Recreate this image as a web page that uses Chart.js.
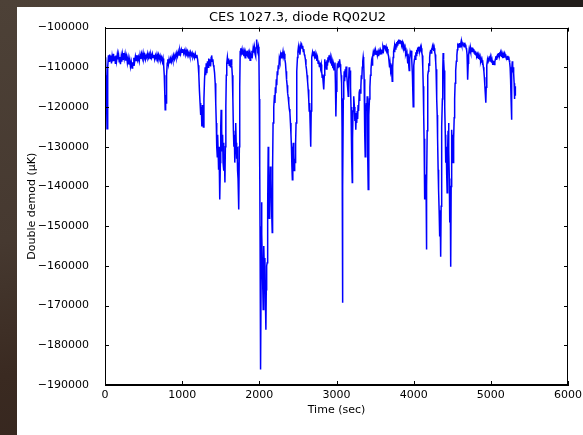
<!DOCTYPE html>
<html>
<head>
<meta charset="utf-8">
<script src="https://cdn.jsdelivr.net/npm/chart.js@4.4.1/dist/chart.umd.min.js"></script>
<style>
  html, body { margin: 0; padding: 0; }
  body {
    width: 583px; height: 435px; overflow: hidden; position: relative;
    background: linear-gradient(170deg, #4d4137 0%, #463930 45%, #3a2a21 70%, #33241d 100%);
  }
  #corner { position: absolute; left: 430px; top: 0; width: 153px; height: 7px; background: #221e1b; }
  #panel { position: absolute; left: 17px; top: 7px; width: 569px; height: 428px; background: #fff; }
</style>
</head>
<body>
<div id="corner"></div>
<div id="panel"><canvas id="chart" width="569" height="428"></canvas></div>
<script>
// time in seconds (10 per line, same layout as values below)
const times = [
  0, 8, 14, 20, 26, 32, 38, 45, 52, 60,
  68, 76, 84, 92, 100, 110, 118, 126, 134, 142,
  150, 160, 168, 176, 184, 192, 200, 210, 218, 226,
  234, 242, 250, 260, 270, 280, 290, 300, 310, 320,
  330, 340, 350, 358, 366, 374, 384, 394, 404, 414,
  424, 434, 444, 454, 464, 474, 484, 494, 504, 514,
  524, 534, 544, 554, 564, 574, 584, 594, 604, 614,
  624, 634, 644, 654, 664, 674, 684, 694, 704, 714,
  724, 734, 744, 752, 760, 768, 774, 780, 786, 792,
  798, 806, 814, 822,
  830, 840, 850, 860, 870, 880, 890, 900, 910, 920,
  930, 940, 950, 960, 970, 980, 990, 1000, 1010, 1020,
  1030, 1040, 1050, 1060, 1070, 1080, 1090, 1100, 1110, 1120,
  1130, 1140, 1150, 1160, 1170, 1180, 1190, 1200, 1208, 1216,
  1224, 1232, 1240, 1248, 1255, 1262, 1268, 1275, 1282, 1290,
  1298, 1305, 1312, 1320, 1328, 1336, 1344, 1352, 1360, 1368,
  1376, 1382, 1390, 1398, 1405, 1412, 1420, 1428, 1435, 1442,
  1448, 1455, 1460, 1466, 1472, 1478, 1484, 1490, 1495, 1500,
  1505, 1512, 1518, 1524, 1530, 1536, 1542, 1548, 1554, 1560,
  1566, 1572, 1578, 1586, 1594, 1602, 1610, 1618, 1626, 1634,
  1642, 1650, 1657, 1664, 1670, 1676, 1682, 1688, 1694, 1700,
  1706, 1712, 1718, 1724, 1730, 1736, 1741, 1746, 1752, 1760,
  1768, 1776, 1784, 1792, 1800, 1808, 1816, 1824, 1832, 1840,
  1848, 1856, 1864, 1872, 1880, 1888, 1896, 1904, 1912, 1920,
  1928, 1936, 1944, 1952, 1958, 1965, 1972, 1980, 1988, 1995,
  2000, 2005, 2009, 2012, 2016, 2020, 2024, 2028, 2034, 2040,
  2045, 2050, 2055, 2060, 2066, 2072, 2078, 2085, 2090, 2095,
  2102, 2108, 2115, 2121, 2128, 2133, 2137, 2143, 2150, 2156,
  2162, 2167, 2172, 2178, 2184, 2190, 2196, 2202, 2208, 2214,
  2220, 2226, 2232, 2238, 2245, 2252, 2259, 2267, 2275, 2283,
  2291, 2299, 2307, 2315, 2323, 2331, 2339, 2346, 2353, 2360,
  2367, 2374, 2381, 2388, 2396, 2403, 2410, 2416, 2422, 2428,
  2434, 2440, 2446, 2452, 2458, 2464, 2470, 2476, 2482, 2488,
  2494, 2500, 2506, 2512, 2518, 2526, 2534, 2541, 2548, 2555,
  2562, 2569, 2576, 2583, 2590, 2597, 2604, 2611, 2618, 2625,
  2633, 2640, 2646, 2652, 2658, 2664, 2668, 2672, 2676, 2682,
  2690, 2698, 2706, 2714, 2722, 2730, 2738, 2746, 2754, 2762,
  2770, 2778, 2786, 2794, 2802, 2808, 2814, 2820, 2826, 2832,
  2837, 2842, 2848, 2855, 2862, 2869, 2876, 2883, 2890, 2897,
  2904, 2911, 2918, 2925, 2932, 2939, 2946, 2953, 2960, 2967,
  2974, 2980, 2986, 2992, 2998, 3005, 3012, 3019, 3026, 3033,
  3040, 3047, 3054, 3060, 3066, 3072, 3076, 3078, 3081, 3084,
  3088, 3094, 3100, 3106, 3112, 3118, 3124, 3130, 3136, 3142,
  3148, 3152, 3158, 3164, 3170, 3176, 3182, 3188, 3194, 3200,
  3204, 3208, 3214, 3220, 3226, 3232, 3238, 3244, 3250, 3256,
  3262, 3268, 3274, 3280, 3286, 3292, 3298, 3304, 3310, 3316,
  3322, 3328, 3334, 3340, 3346, 3352, 3358, 3364, 3368, 3372,
  3377, 3382, 3388, 3393, 3398, 3403, 3407, 3411, 3416, 3421,
  3427, 3433, 3440, 3447, 3454, 3461, 3468, 3475, 3482, 3490,
  3498, 3506, 3514, 3522, 3530, 3538, 3546, 3554, 3562, 3570,
  3578, 3586, 3594, 3602, 3610, 3618, 3627, 3635, 3643, 3651,
  3659, 3667, 3675, 3682, 3688, 3694, 3700, 3706, 3712, 3718,
  3722, 3728, 3734, 3740, 3746, 3752, 3758, 3764, 3770, 3776,
  3782, 3788, 3794, 3800, 3806, 3812, 3818, 3824, 3830, 3836,
  3842, 3848, 3854, 3860, 3866, 3872, 3878, 3884, 3890, 3896,
  3902, 3908, 3914, 3920, 3926, 3932, 3938, 3942, 3948, 3954,
  3960, 3966, 3972, 3978, 3984, 3989, 3994, 3999, 4004, 4010,
  4016, 4022, 4028, 4034, 4040, 4046, 4052, 4058, 4064, 4070,
  4076, 4082, 4088, 4094, 4100, 4106, 4112, 4118, 4124, 4130,
  4135, 4140, 4145, 4150, 4155, 4160, 4164, 4167, 4171, 4175,
  4180, 4185, 4190, 4196, 4201, 4207, 4213, 4219, 4225, 4231,
  4237, 4243, 4249, 4255, 4261, 4267, 4273, 4279, 4285, 4290,
  4296, 4301, 4305, 4310, 4317, 4323, 4330, 4335, 4339, 4344,
  4348, 4352, 4356, 4360, 4366, 4372, 4377, 4382, 4388, 4395,
  4400, 4405, 4410, 4414, 4417, 4422, 4428, 4434, 4440, 4446,
  4452, 4457, 4462, 4466, 4469, 4474, 4478, 4482, 4486, 4490,
  4495, 4500, 4506, 4512, 4518, 4525, 4531, 4537, 4542, 4547,
  4553, 4560, 4566, 4572, 4577, 4583, 4590, 4596, 4602, 4608,
  4614, 4620, 4626, 4632, 4638, 4644, 4650, 4656, 4662, 4668,
  4674, 4680, 4686, 4692, 4697, 4702, 4707, 4712, 4718, 4724,
  4730, 4736, 4742, 4748, 4754, 4760, 4766, 4772, 4778, 4784,
  4790, 4796, 4802, 4808, 4814, 4820, 4826, 4832, 4838, 4844,
  4850, 4856, 4862, 4868, 4874, 4880, 4886, 4892, 4898, 4904,
  4910, 4916, 4922, 4928, 4935, 4940, 4945, 4950, 4956, 4962,
  4968, 4974, 4980, 4986, 4992, 4998, 5004, 5010, 5016, 5022,
  5028, 5034, 5040, 5046, 5052, 5058, 5064, 5070, 5076, 5082,
  5088, 5094, 5100, 5106, 5112, 5118, 5124, 5130, 5136, 5142,
  5148, 5154, 5160, 5166, 5172, 5178, 5184, 5190, 5196, 5202,
  5208, 5214, 5220, 5226, 5232, 5238, 5244, 5250, 5256, 5262,
  5266, 5270, 5274, 5278, 5283, 5288, 5293, 5298, 5302, 5306,
  5310, 5314, 5318
];
// double demod signal in uK
const values = [
  -110000, -107500, -112000, -118000, -125500, -119000, -110000, -107000, -108500, -106800,
  -108200, -107000, -109000, -107300, -108500, -106600, -108200, -107200, -109000, -107000,
  -108400, -106700, -108000, -106900, -108600, -107400, -109200, -107300, -108600, -106800,
  -108000, -106400, -107800, -106600, -108300, -107200, -108900, -107600, -109300, -108000,
  -109800, -108600, -110200, -108700, -109500, -107600, -108600, -107200, -108300, -106900,
  -108200, -107400, -108500, -106800, -107900, -106600, -107700, -106400, -107800, -106900,
  -108000, -107000, -107600, -106500, -107500, -106700, -107800, -106800, -107600, -106600,
  -107500, -106900, -108000, -107000, -107800, -106700, -107600, -106800, -107900, -107100,
  -108200, -107500, -108600, -107800, -109500, -112000, -116000, -120700, -117000, -119000,
  -112000, -109000, -108000, -109200,
  -108000, -109000, -107800, -108600, -107400, -108300, -107000, -107900, -106800, -107600,
  -106400, -107200, -106000, -106900, -105700, -106600, -105500, -106200, -105400, -106500,
  -105800, -106800, -105600, -106400, -105900, -107000, -106300, -107200, -106200, -107000,
  -106400, -107400, -106800, -107600, -106600, -107500, -106900, -108000, -109500, -112000,
  -116000, -119000, -122000, -120000, -124900, -119500, -123000, -125000, -118000, -113000,
  -110000, -112000, -109000, -111500, -108500, -110000, -107800, -109500, -108000, -109800,
  -107500, -107000, -108500, -108000, -109500, -110000, -111400, -114000, -119000, -124000,
  -130000, -132500, -127000, -131000, -135800, -130000, -138000, -143300, -134000, -125000,
  -120700, -126000, -131000, -127000, -134000, -129000, -136000, -133000, -139000, -130000,
  -120000, -112000, -109000, -107500, -109000, -107800, -109500, -108200, -110000, -108000,
  -109500, -112000, -118000, -126000, -130000, -127000, -134000, -128000, -124000, -129000,
  -133000, -130000, -136000, -138000, -134000, -145800, -130000, -115000, -106000, -105200,
  -106300, -105500, -106800, -106000, -107200, -106200, -107600, -106400, -107000, -105800,
  -106900, -106300, -107800, -106600, -108200, -106900, -107500, -105800, -106700, -105200,
  -106300, -105000, -106600, -107200, -105000, -103000, -104800, -105500, -104800, -108000,
  -118000, -135000, -150000, -165200, -172000, -186100, -160000, -144000, -152000, -160000,
  -166000, -171000, -160000, -155000, -162000, -158000, -168000, -176100, -166000, -160000,
  -159200, -145000, -130000, -140000, -148000, -138000, -142500, -135000, -138000, -144000,
  -148000, -151600, -135000, -124000, -121400, -120000, -117000, -119000, -115000, -116500,
  -113000, -114500, -111000, -112000, -109500, -110500, -107800, -108500, -106800, -107600,
  -106200, -107000, -106000, -107200, -106600, -108000, -109000, -111000, -113100, -114500,
  -116500, -117500, -119000, -120500, -121400, -124000, -127000, -130000, -135000, -138300,
  -133000, -129000, -131500, -136000, -133000, -134000, -129000, -124000, -117000, -111000,
  -107500, -106000, -105000, -106300, -105400, -106800, -105000, -104000, -104300, -105200,
  -104600, -106000, -105400, -106800, -107200, -108000, -109500, -110500, -112000, -113500,
  -115600, -118000, -121000, -119000, -124000, -127000, -130000, -121000, -112000, -107500,
  -106200, -107000, -106000, -107200, -106500, -107800, -107000, -108400, -107600, -109000,
  -108300, -109800, -108800, -110200, -109300, -111000, -112500, -111800, -113500, -114200,
  -115600, -112000, -108000, -110000, -108600, -110400, -108200, -109600, -107500, -108800,
  -107000, -108200, -107400, -109000, -108000, -109600, -108700, -110200, -109300, -110800,
  -109500, -108800, -114000, -122400, -116000, -111000, -109000, -110200, -108500, -109800,
  -108000, -109200, -110500, -112000, -114000, -125000, -150000, -169300, -155000, -140000,
  -118000, -114000, -111000, -113500, -110500, -112500, -109800, -110300, -112000, -114500,
  -116000, -117300, -113000, -110000, -111500, -110800, -115000, -120000, -126000, -133000,
  -139000, -128000, -121000, -118500, -117300, -120000, -123500, -121500, -125700, -122000,
  -124000, -121000, -123000, -119500, -121000, -117500, -118500, -115500, -116500, -114800,
  -112000, -113000, -110000, -108500, -107400, -108500, -113000, -120000, -127000, -132500,
  -126000, -121000, -119000, -121000, -117300, -125000, -133000, -140800, -131000, -122000,
  -118000, -115000, -112000, -110500, -108600, -109400, -107400, -106400, -107200, -106000,
  -106800, -105700, -106700, -105800, -107000, -106200, -107200, -106000, -106800, -105800,
  -106600, -105500, -106300, -105000, -105700, -104600, -104700, -105400, -104800, -105800,
  -105400, -106600, -107200, -108800, -110000, -109000, -110500, -111000, -110300, -112000,
  -113500, -110000, -107500, -106000, -105300, -106200, -104600, -105400, -104000, -104800,
  -103600, -104400, -103300, -104000, -103000, -103800, -103100, -103900, -103200, -104000,
  -103400, -104300, -103700, -104600, -104200, -105200, -104800, -105800, -105200, -106500,
  -106000, -107200, -106600, -108200, -109000, -108000, -110000, -110800, -108000, -106500,
  -107200, -105800, -106500, -108000, -112000, -116000, -119900, -113000, -109500, -108000,
  -107000, -108000, -106200, -107000, -105600, -106400, -105000, -105800, -104800, -105600,
  -104800, -105800, -105000, -106000, -105200, -106400, -107000, -110000, -114800, -122000,
  -128000, -136000, -143300, -137000, -141000, -138000, -148000, -155900, -140000, -126000,
  -118000, -112000, -111000, -109000, -109500, -107500, -106200, -105600, -106400, -105200,
  -105800, -104800, -105600, -104900, -105900, -105200, -106200, -106800, -108500, -110500,
  -113100, -118000, -122000, -128000, -135800, -141000, -146000, -150000, -152600, -148000,
  -154000, -157700, -145000, -134000, -125000, -118000, -111000, -106400, -108000, -110800,
  -115000, -120000, -127000, -131000, -134000, -130000, -137000, -141600, -131000, -126000,
  -124000, -131000, -138000, -143000, -149100, -142000, -152000, -160200, -140000, -130000,
  -125700, -130000, -127000, -134000, -128000, -122700, -118000, -114000, -111500, -110800,
  -108500, -107000, -105600, -104500, -104700, -104000, -104900, -103900, -104800, -104200,
  -103600, -104400, -103500, -104200, -103700, -104600, -104000, -104800, -103800, -104600,
  -104300, -105200, -105600, -106800, -110000, -113100, -109000, -107000, -105800, -106500,
  -105400, -106200, -105200, -106000, -105000, -105800, -105100, -106000, -105400, -106400,
  -105800, -106700, -106000, -106900, -106300, -107200, -106700, -107600, -107000, -107900,
  -107300, -108100, -107500, -108500, -108000, -108800, -108200, -109400, -108600, -110000,
  -111000, -112500, -114500, -116500, -118900, -115000, -111000, -109500, -108200, -109000,
  -107600, -108600, -107200, -108200, -107500, -108600, -107800, -108800, -108200, -109400,
  -108600, -109200, -108400, -109300, -108600, -108000, -107200, -108000, -107000, -107600,
  -106600, -107300, -106400, -107000, -106200, -107000, -106300, -107200, -106500, -107400,
  -106800, -107700, -107000, -107600, -106800, -107500, -106700, -107300, -106900, -107900,
  -107200, -108000, -107100, -107800, -107300, -108200, -108800, -110000, -113000, -118000,
  -123200, -116000, -111000, -108500, -109500, -111000, -110000, -111500, -114000, -118000,
  -115600, -117000, -114800
];
const xTicks = [0, 1000, 2000, 3000, 4000, 5000, 6000];
const yTicks = [-190000, -180000, -170000, -160000, -150000, -140000, -130000, -120000, -110000, -100000];

const fmt = v => (v < 0 ? '\u2212' + Math.abs(v) : String(v));
const font = { family: 'DejaVu Sans', size: 11 };

// matplotlib look: box around the axes, ticks pointing inwards on all four sides
const innerTicks = {
  id: 'innerTicks',
  afterDraw(chart) {
    const { ctx, chartArea: a, scales: { x, y } } = chart;
    ctx.save();
    ctx.strokeStyle = '#000';
    ctx.lineWidth = 1;
    x.ticks.forEach((t, i) => {
      const px = Math.round(x.getPixelForTick(i)) + 0.5;
      ctx.beginPath();
      ctx.moveTo(px, a.bottom); ctx.lineTo(px, a.bottom - 4);
      ctx.moveTo(px, a.top); ctx.lineTo(px, a.top + 4);
      ctx.stroke();
    });
    y.ticks.forEach((t, i) => {
      const py = Math.round(y.getPixelForTick(i)) + 0.5;
      ctx.beginPath();
      ctx.moveTo(a.left, py); ctx.lineTo(a.left + 4, py);
      ctx.moveTo(a.right, py); ctx.lineTo(a.right - 4, py);
      ctx.stroke();
    });
    ctx.strokeRect(Math.round(a.left) + 0.5, Math.round(a.top) + 0.5,
      Math.round(a.right - a.left) - 1, Math.round(a.bottom - a.top) - 1);
    ctx.restore();
  }
};

const points = times.map((t, i) => ({ x: t, y: values[i] }));

new Chart(document.getElementById('chart'), {
  type: 'line',
  data: {
    datasets: [{
      data: points,
      borderColor: '#0000ff',
      borderWidth: 1.5,
      pointRadius: 0,
      tension: 0,
      fill: false
    }]
  },
  options: {
    responsive: false,
    animation: false,
    layout: { padding: { top: 0, right: 8, left: 0, bottom: 0 } },
    plugins: {
      legend: { display: false },
      tooltip: { enabled: false },
      title: {
        display: true,
        text: 'CES 1027.3, diode RQ02U2',
        color: '#000',
        font: { family: 'DejaVu Sans', size: 13, weight: 'normal' },
        padding: { top: 3, bottom: 2 }
      }
    },
    scales: {
      x: {
        type: 'linear',
        min: 0,
        max: 6000,
        afterFit: s => { s.height = 50; },
        afterBuildTicks: s => { s.ticks = xTicks.map(v => ({ value: v })); },
        ticks: { color: '#000', font: font, padding: 4, maxRotation: 0, callback: v => fmt(v) },
        grid: { display: false, drawTicks: false, tickLength: 0 },
        border: { display: true, color: '#000', width: 1 },
        title: { display: true, text: 'Time (sec)', color: '#000', font: font, padding: { top: 0, bottom: 18 } }
      },
      y: {
        min: -190000,
        max: -100000,
        afterFit: s => { s.width = 88; },
        afterBuildTicks: s => { s.ticks = yTicks.map(v => ({ value: v })); },
        ticks: { color: '#000', font: font, padding: 8, callback: v => fmt(v) },
        grid: { display: false },
        border: { display: true, color: '#000', width: 1 },
        title: { display: true, text: 'Double demod (\u03bcK)', color: '#000', font: font, padding: { top: 9, bottom: 0 } }
      }
    }
  },
  plugins: [innerTicks]
});
</script>
</body>
</html>
